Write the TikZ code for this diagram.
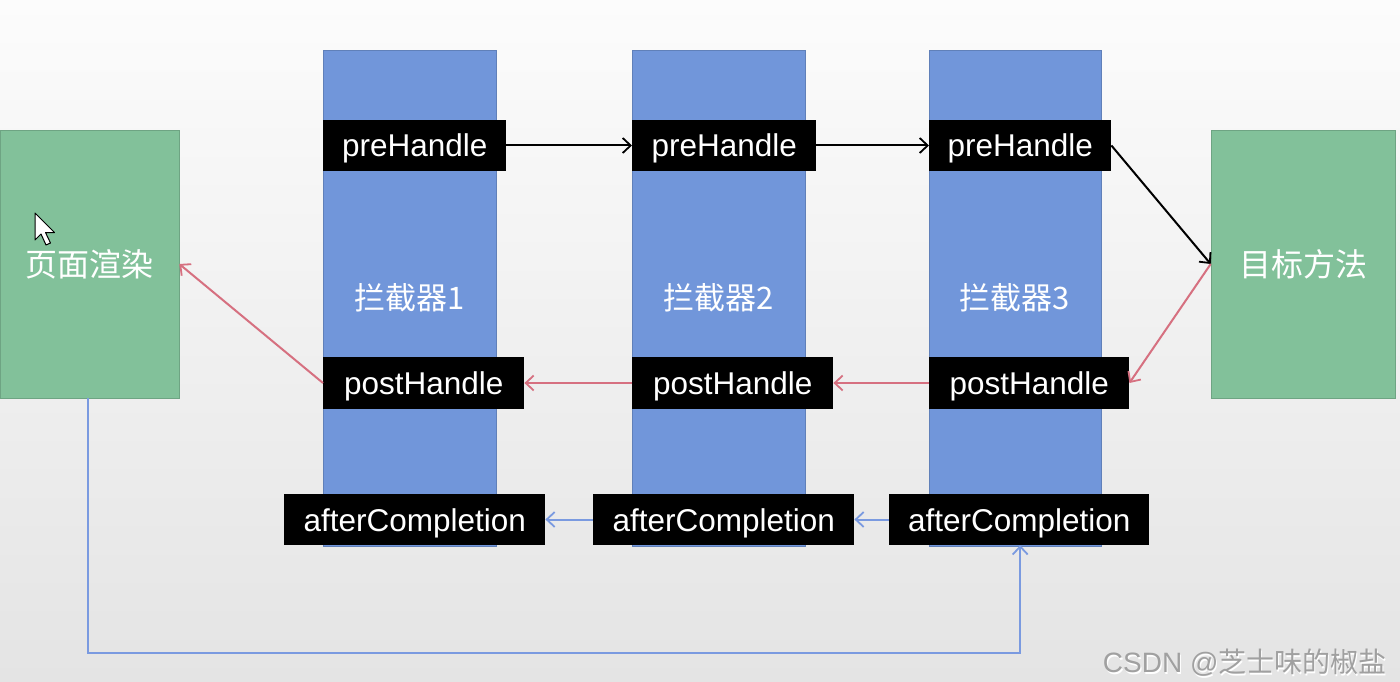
\documentclass[tikz,border=0pt]{standalone}
\usepackage{fontspec}
\setmainfont{Liberation Sans}
\newfontfamily\cjk{Noto Sans CJK SC}
\usetikzlibrary{arrows.meta}
\definecolor{bgtop}{RGB}{252,252,252}
\definecolor{bgbot}{RGB}{228,228,228}
\definecolor{colblue}{RGB}{113,150,218}
\definecolor{boxgreen}{RGB}{130,193,154}
\definecolor{arrred}{RGB}{214,112,128}
\definecolor{arrblue}{RGB}{122,154,224}
\definecolor{wmgray}{RGB}{160,160,160}
\begin{document}
\begin{tikzpicture}[x=1pt,y=-1pt,
  colbox/.style={fill=colblue, draw=colblue!85!black, line width=0.6pt, inner sep=0pt,
    minimum height=496pt, text=white, font=\cjk\fontsize{31}{36}\selectfont},
  greenbox/.style={fill=boxgreen, draw=boxgreen!85!black, line width=0.6pt, inner sep=0pt,
    minimum height=268pt, text=white, font=\cjk\fontsize{32}{36}\selectfont},
  lbl/.style={fill=black, text=white, inner sep=0pt, minimum height=51pt,
    text height=24pt, text depth=1pt,
    font=\fontsize{31.5}{36}\selectfont},
  conn/.style={line width=2pt, -{Straight Barb[length=8pt,width=15pt,line width=1.8pt]}},
  blk/.style={conn, draw=black},
  red/.style={conn, draw=arrred},
  blu/.style={conn, draw=arrblue},
]
\useasboundingbox (0,0) rectangle (1400,682);
\shade[top color=bgtop, bottom color=bgbot] (0,0) rectangle (1400,682);

% columns
\node[colbox, minimum width=173pt] (c1) at (409.5,298) {拦截器1};
\node[colbox, minimum width=173pt] (c2) at (718.5,298) {拦截器2};
\node[colbox, minimum width=172pt] (c3) at (1015,298) {拦截器3};

% green boxes
\node[greenbox, minimum width=179pt] (left) at (89.5,264) {页面渲染};
\node[greenbox, minimum width=184pt] (tgt) at (1303,264) {目标方法};

% preHandle
\node[lbl, anchor=west, minimum width=183pt] (pre1) at (323,145.5) {preHandle};
\node[lbl, anchor=west, minimum width=184pt] (pre2) at (632,145.5) {preHandle};
\node[lbl, anchor=west, minimum width=182pt] (pre3) at (929,145.5) {preHandle};

% postHandle
\node[lbl, anchor=west, minimum width=201pt, minimum height=52pt] (post1) at (323,383) {postHandle};
\node[lbl, anchor=west, minimum width=201pt, minimum height=52pt] (post2) at (632,383) {postHandle};
\node[lbl, anchor=west, minimum width=200pt, minimum height=52pt] (post3) at (929,383) {postHandle};

% afterCompletion
\node[lbl, anchor=west, minimum width=261pt] (ac1) at (284,519.5) {afterCompletion};
\node[lbl, anchor=west, minimum width=261pt] (ac2) at (593,519.5) {afterCompletion};
\node[lbl, anchor=west, minimum width=260pt] (ac3) at (889,519.5) {afterCompletion};

% black arrows
\draw[blk] (pre1.east) -- (pre2.west);
\draw[blk] (pre2.east) -- (pre3.west);
\draw[blk] (pre3.east) -- (tgt.west);

% red arrows
\draw[red] (tgt.west) -- (post3.east);
\draw[red] (post3.west) -- (post2.east);
\draw[red] (post2.west) -- (post1.east);
\draw[red] (post1.west) -- (left.east);

% blue arrows
\draw[blu] ([xshift=-1.5pt]left.south) -- ++(0,255) -| ([xshift=1pt]ac3.south);
\draw[blu] (ac3.west) -- (ac2.east);
\draw[blu] (ac2.west) -- (ac1.east);

% mouse cursor
\draw[fill=white, draw=black, line width=1pt, line join=round]
  (35,213) -- ++(0,27) -- ++(6,-6) -- ++(5,11) -- ++(4.5,-2) -- ++(-5,-10.5) -- ++(9,0) -- cycle;

% watermark
\node[text=white, anchor=east, font=\fontsize{28}{30}\selectfont] (wms) at (1391.2,664.2) {CSDN @{\cjk 芝士味的椒盐}};
\node[text=wmgray, anchor=east, font=\fontsize{28}{30}\selectfont] (wm) at (1390,663) {CSDN @{\cjk 芝士味的椒盐}};
\end{tikzpicture}
\end{document}
